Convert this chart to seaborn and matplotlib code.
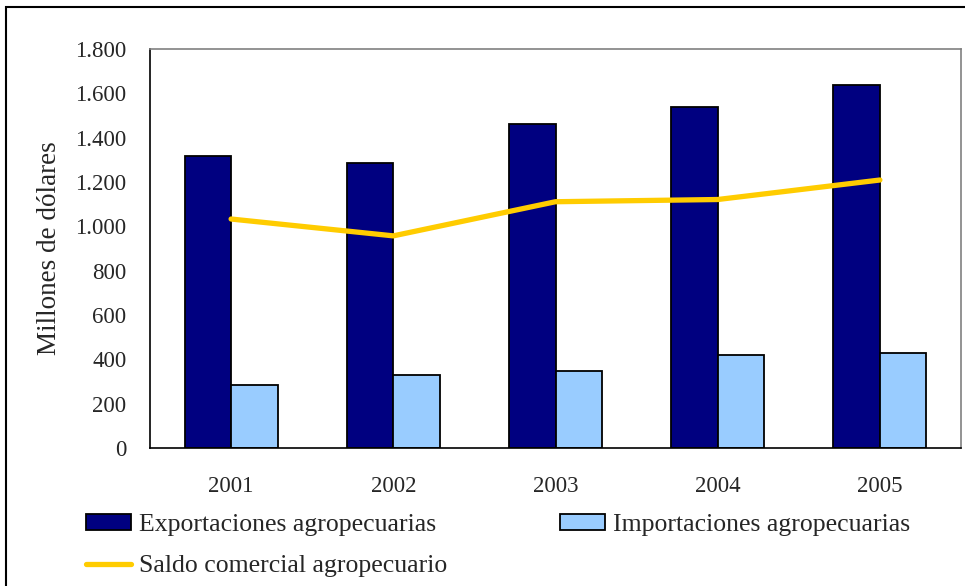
import numpy as np
import pandas as pd
import matplotlib
matplotlib.use("Agg")
import matplotlib.pyplot as plt
import seaborn as sns
from matplotlib.patches import Patch, Rectangle
from matplotlib.lines import Line2D
from matplotlib.ticker import FuncFormatter, FixedLocator

# Data
years = ["2001", "2002", "2003", "2004", "2005"]
exportaciones = [1317, 1286, 1460, 1540, 1639]
importaciones = [284, 329, 349, 419, 430]
saldo = [1033, 957, 1111, 1121, 1209]

lbl_exp = "Exportaciones agropecuarias"
lbl_imp = "Importaciones agropecuarias"
lbl_sal = "Saldo comercial agropecuario"

navy = "#000080"
light = "#99CCFF"
yellow = "#FFCC00"

sns.set_theme(style="white")
plt.rcParams["font.family"] = ["Liberation Serif", "DejaVu Serif"]
plt.rcParams["font.size"] = 16.5

df = pd.DataFrame({
    "year": years * 2,
    "value": exportaciones + importaciones,
    "serie": [lbl_exp] * 5 + [lbl_imp] * 5,
})

fig = plt.figure(figsize=(9.65, 5.86), dpi=100)
ax = fig.add_axes([150 / 965, 1 - 448 / 586, 811 / 965, 399 / 586])

sns.barplot(data=df, x="year", y="value", hue="serie", palette=[navy, light],
            saturation=1, width=0.574, edgecolor="black", linewidth=1.3,
            legend=False, ax=ax)
sns.lineplot(x=np.arange(len(years)), y=saldo, color=yellow, linewidth=3.8,
             ax=ax, legend=False)

ax.set_xlim(-0.5, len(years) - 0.5)
ax.set_ylim(0, 1800)
ax.set_yticks(np.arange(0, 1801, 200))
ax.yaxis.set_major_formatter(FuncFormatter(lambda v, p: f"{v:,.0f}".replace(",", ".")))

# tick marks at category boundaries, labels at centers
ax.xaxis.set_major_locator(FixedLocator(np.arange(-0.5, len(years), 1.0)))
ax.xaxis.set_minor_locator(FixedLocator(np.arange(len(years))))
ax.set_xticklabels([])
ax.set_xticklabels(years, minor=True)
ax.tick_params(axis="x", which="major", direction="inout", length=14, width=1, color="black")
ax.tick_params(axis="x", which="minor", length=0, pad=20, labelsize=16.5)
ax.tick_params(axis="y", direction="inout", length=14, width=1, color="black", pad=10, labelsize=16.5)
ax.set_xlabel("")
ax.set_ylabel("Millones de dólares", fontsize=19.5)
ax.yaxis.set_label_coords(-(150 - 62) / 811, 0.5)

for s in ["left", "bottom"]:
    ax.spines[s].set_color("black")
    ax.spines[s].set_linewidth(1.2)
for s in ["top", "right"]:
    ax.spines[s].set_color("#808080")
    ax.spines[s].set_linewidth(1.2)

handles = [
    Patch(facecolor=navy, edgecolor="black", linewidth=1.3, label=lbl_exp),
    Line2D([0], [0], color=yellow, linewidth=3.8, label=lbl_sal),
    Patch(facecolor=light, edgecolor="black", linewidth=1.3, label=lbl_imp),
]
fig.legend(handles=handles, ncol=2, loc="upper left", bbox_to_anchor=(86 / 965, 1 - 514 / 586),
           frameon=False, fontsize=18.5, handlelength=1.75, handleheight=0.55,
           handletextpad=0.3, columnspacing=4.4, labelspacing=0.75, borderpad=0,
           borderaxespad=0)

fig.patches.append(Rectangle((6 / 965, -0.05), 1.1, 1 - 7 / 586 + 0.05,
                             transform=fig.transFigure, fill=False,
                             edgecolor="black", linewidth=1.5))

fig.savefig("out.png", dpi=100)
